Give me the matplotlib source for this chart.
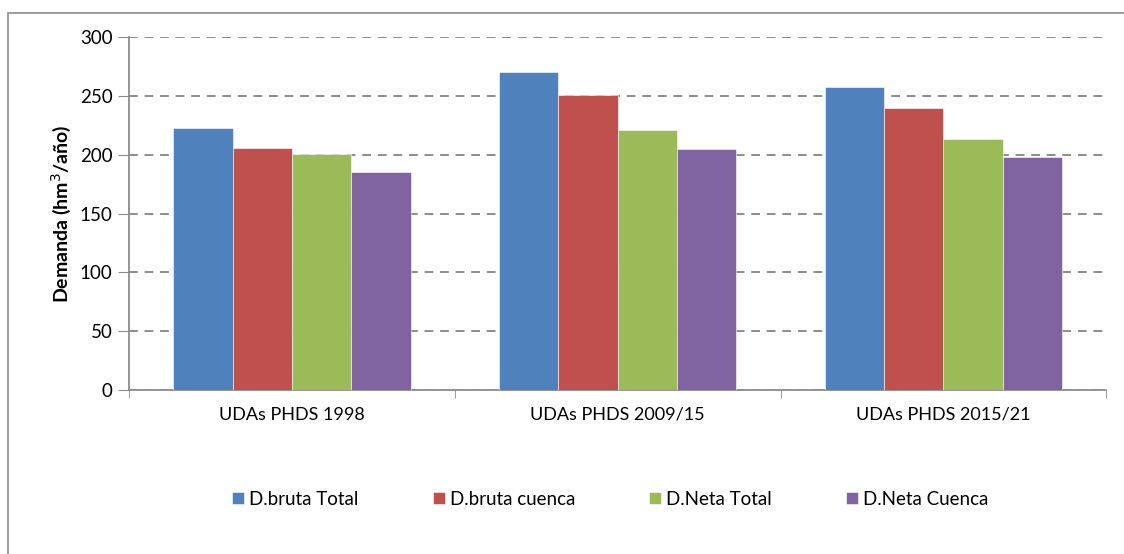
import numpy as np
import matplotlib
matplotlib.use("Agg")
from matplotlib import pyplot as plt
from matplotlib.patches import Rectangle

plt.rcParams['font.family'] = ['Lato', 'DejaVu Sans']

categories = ['UDAs PHDS 1998', 'UDAs PHDS 2009/15', 'UDAs PHDS 2015/21']
series = ['D.bruta Total', 'D.bruta cuenca', 'D.Neta Total', 'D.Neta Cuenca']
bruta_total = [223, 270, 258]
bruta_cuenca = [206, 251, 240]
neta_total = [201, 221, 213]
neta_cuenca = [185, 205, 198]
colors = ['#4f81bd', '#c0504d', '#9bbb59', '#8064a2']

fig = plt.figure(figsize=(11.24, 5.54), dpi=100)
ax = fig.add_axes([0.1148, 0.296, 0.8695, 0.637])

# outer chart frame
fig.patches.append(Rectangle((8 / 1124, -0.05), 1.2, 1 - 13 / 554 + 0.05,
                             transform=fig.transFigure, fill=False,
                             edgecolor='#8c8c8c', linewidth=1.2))

x = np.arange(len(categories))
w = 0.182
for i, (vals, name) in enumerate(zip([bruta_total, bruta_cuenca, neta_total, neta_cuenca], series)):
    ax.bar(x + (i - 1.5) * w, vals, w, color=colors[i], label=name,
           edgecolor='white', linewidth=0.4, zorder=3)

ax.set_xlim(-0.5, 2.5)
ax.set_ylim(0, 300)
ax.set_yticks(range(0, 301, 50))
ax.set_xticks(x)
ax.set_xticklabels(categories, fontsize=13)
ax.set_xticks([-0.5, 0.5, 1.5, 2.5], minor=True)
ax.tick_params(axis='x', which='major', length=0, pad=12)
ax.tick_params(axis='x', which='minor', length=6, color='#8c8c8c', direction='out')
ax.tick_params(axis='y', length=8, color='#8c8c8c', labelsize=13.5, pad=4)
ax.yaxis.grid(True, linestyle=(0, (4.5, 3.5)), color='#8c8c8c', linewidth=1.4, zorder=0)
ax.set_axisbelow(True)

for s in ['top', 'right']:
    ax.spines[s].set_visible(False)
for s in ['left', 'bottom']:
    ax.spines[s].set_color('#8c8c8c')
    ax.spines[s].set_linewidth(1.3)

ax.set_ylabel('Demanda (hm$^3$/año)', fontsize=14, fontweight='bold', labelpad=5)

fig.legend(loc='center', bbox_to_anchor=(0.543, 0.099), ncol=4, frameon=False,
           fontsize=13.5, handlelength=0.64, handleheight=0.64, handletextpad=0.27,
           columnspacing=3.95)

fig.savefig('out.png', dpi=100)
